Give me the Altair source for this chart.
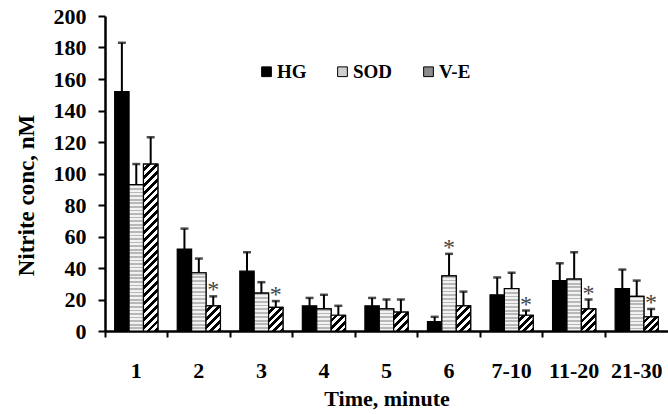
import math
import altair as alt
import pandas as pd

# ---------------- data ----------------
cats = ["1", "2", "3", "4", "5", "6", "7-10", "11-20", "21-30"]
series = ["HG", "SOD", "V-E"]
hg = [152, 52, 38, 16, 16, 6, 23, 32, 27]
hg_err = [31, 13, 12, 5, 5, 3, 11, 11, 12]
sod = [93, 37, 24, 14, 14, 35, 27, 33, 22]
sod_err = [13, 9, 7, 9, 6, 14, 10, 17, 10]
ve = [106, 16, 15, 10, 12, 16, 10, 14, 9]
ve_err = [17, 6, 4, 6, 8, 9, 3, 6, 5]
y_ticks = [0, 20, 40, 60, 80, 100, 120, 140, 160, 180, 200]
sod_star = ["6"]
ve_star = ["2", "3", "7-10", "11-20", "21-30"]

rows = []
for i, c in enumerate(cats):
    for s, vals, errs, stars in (("HG", hg, hg_err, []),
                                 ("SOD", sod, sod_err, sod_star),
                                 ("V-E", ve, ve_err, ve_star)):
        rows.append({"cat": c, "series": s, "value": vals[i],
                     "top": vals[i] + errs[i],
                     "star": "*" if c in stars else ""})
df = pd.DataFrame(rows)

# ---------------- layout ----------------
W, H = 563, 315
YMAX = 200
STEP = W / len(cats)
OFF_PAD = 0.672
BAR_W = STEP / (3 + 2 * OFF_PAD)
FONT = "Times New Roman, Liberation Serif, DejaVu Serif, serif"

x_enc = alt.X("cat:N", scale=alt.Scale(domain=cats, paddingInner=0, paddingOuter=0),
              title="Time, minute",
              axis=alt.Axis(bandPosition=0, labelAngle=0, labelOverlap=False,
                            tickSize=6, tickWidth=2, tickColor="black",
                            domainWidth=2.5, domainColor="black",
                            labelPadding=23, labelFontSize=22, labelFont=FONT,
                            labelFontWeight="bold", labelColor="black",
                            titleFontSize=22, titleFont=FONT, titleFontWeight="bold",
                            titleColor="black", titlePadding=7))
xo_enc = alt.XOffset("series:N", scale=alt.Scale(domain=series, paddingInner=0,
                                                 paddingOuter=OFF_PAD))
y_scale = alt.Scale(domain=[0, YMAX], nice=False)
y_axis = alt.Axis(values=y_ticks, grid=False, labelOverlap=False,
                  tickSize=7, tickWidth=2, tickColor="black",
                  domainWidth=2.5, domainColor="black",
                  labelPadding=12, labelFontSize=22, labelFont=FONT,
                  labelFontWeight="bold", labelColor="black",
                  titleFontSize=23, titleFont=FONT, titleFontWeight="bold",
                  titleColor="black", titlePadding=15, titleY=179)
y_enc = alt.Y("value:Q", scale=y_scale, title="Nitrite conc, nM", axis=y_axis)
y_top = alt.Y("top:Q", scale=y_scale, title="Nitrite conc, nM", axis=y_axis)

base = alt.Chart(df)

bars = base.mark_bar(stroke="black", strokeWidth=1.2).encode(
    x=x_enc, xOffset=xo_enc, y=y_enc,
    color=alt.Color("series:N",
                    scale=alt.Scale(domain=series, range=["#000000", "#cfcfcf", "#8c8c8c"]),
                    legend=alt.Legend(orient="none", legendX=152, legendY=46,
                                      direction="horizontal", title=None,
                                      symbolType="square", symbolSize=95,
                                      symbolStrokeColor="black", symbolStrokeWidth=1,
                                      labelFont=FONT, labelFontSize=19,
                                      labelFontWeight="bold", labelColor="black",
                                      labelOffset=1, columnPadding=26)))


def hatch(h):
    """diagonal '/' stripes for a bar of height h px."""
    w = BAR_W
    k = (w + h) / (w * w + h * h)
    n = max(1, round((w + h) / (5.6 * math.sqrt(2))))
    stops = []
    for j in range(n):
        a, m, b = j / n, (j + 0.5) / n, (j + 1) / n
        stops += [alt.GradientStop(offset=a, color="white"),
                  alt.GradientStop(offset=m, color="white"),
                  alt.GradientStop(offset=m, color="black"),
                  alt.GradientStop(offset=b, color="black")]
    return alt.LinearGradient(gradient="linear", x1=0, y1=0, x2=k * w, y2=k * h,
                              stops=stops)


def dots(h):
    n = max(1, round(h / 3.6))
    stops = []
    for j in range(n):
        a, m, b = j / n, (j + 0.5) / n, (j + 1) / n
        stops += [alt.GradientStop(offset=a, color="#b8b8b8"),
                  alt.GradientStop(offset=m, color="#b8b8b8"),
                  alt.GradientStop(offset=m, color="#f2f2f2"),
                  alt.GradientStop(offset=b, color="#f2f2f2")]
    return alt.LinearGradient(gradient="linear", x1=0, y1=0, x2=0, y2=1, stops=stops)


layers = [bars]
for i, c in enumerate(cats):
    for s, vals, fn in (("SOD", sod, dots), ("V-E", ve, hatch)):
        hpx = vals[i] * H / YMAX
        layers.append(
            base.transform_filter(f"datum.cat == '{c}' && datum.series == '{s}'")
            .mark_bar(fill=fn(hpx), stroke="black", strokeWidth=1.2)
            .encode(x=x_enc, xOffset=xo_enc, y=y_enc))

err = base.mark_rule(color="black", strokeWidth=2).encode(
    x=x_enc, xOffset=xo_enc, y=y_enc, y2="top:Q")
caps = base.mark_tick(color="black", thickness=2.5, size=8).encode(
    x=x_enc, xOffset=xo_enc, y=y_top)
stars = base.transform_filter("datum.star != ''").mark_text(
    font=FONT, fontSize=24, color="#444444", baseline="middle", dy=-6).encode(
    x=x_enc, xOffset=xo_enc, y=y_top, text="star:N")

layers += [err, caps, stars]

chart = alt.layer(*layers).properties(
    width=W, height=H,
    autosize=alt.AutoSizeParams(type="none"),
    padding={"left": 105, "top": 16, "right": 0, "bottom": 83},
    background="white",
).configure_view(stroke=None).configure_axis(grid=False, labelOverlap=False)

chart.save("out.html", embed_options={"renderer": "svg", "actions": False})
